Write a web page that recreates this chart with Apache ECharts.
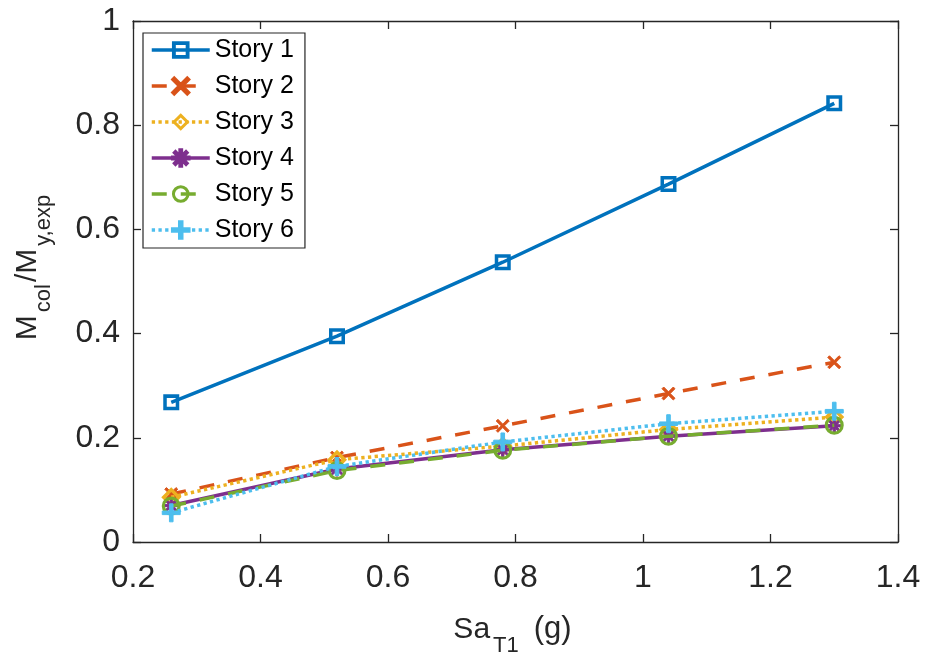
<!DOCTYPE html>
<html><head><meta charset="utf-8">
<script src="https://cdn.jsdelivr.net/npm/echarts@6/dist/echarts.min.js"></script>
<style>html,body{margin:0;padding:0;background:#fff}#c{width:930px;height:665px}</style>
</head><body><div id="c"></div>
<script>
const xValues = [0.26, 0.52, 0.78, 1.04, 1.30];
const seriesNames = ['Story 1','Story 2','Story 3','Story 4','Story 5','Story 6'];
const story1 = [0.268, 0.395, 0.537, 0.687, 0.842];
const story2 = [0.092, 0.162, 0.223, 0.285, 0.345];
const story3 = [0.086, 0.158, 0.184, 0.216, 0.240];
const story4 = [0.070, 0.140, 0.177, 0.203, 0.223];
const story5 = [0.069, 0.137, 0.176, 0.203, 0.224];
const story6 = [0.056, 0.145, 0.192, 0.227, 0.251];
const xTicks = [0.2, 0.4, 0.6, 0.8, 1, 1.2, 1.4];
const yTicks = [0, 0.2, 0.4, 0.6, 0.8, 1];

const allData = [story1, story2, story3, story4, story5, story6];
const colors = ['#0072BD','#D95319','#EDB120','#7E2F8E','#77AC30','#4DBEEE'];
const lineTypes = ['solid',[15,14],[3.3,3.4],'solid',[15,14],[3.3,3.4]];
const P_SQ = 'path://M0,0 H10 V10 H0 Z M2.2,2.2 V7.8 H7.8 V2.2 Z';
const P_DIA = 'path://M5,0 L10,5 L5,10 L0,5 Z M5,2.4 L2.4,5 L5,7.6 L7.6,5 Z';
const P_CIR = 'path://M5,0 A5,5 0 1,1 5,10 A5,5 0 1,1 5,0 Z M5,1.7 A3.3,3.3 0 1,0 5,8.3 A3.3,3.3 0 1,0 5,1.7 Z';
const P_X = 'path://M1.3,0 L5,3.7 L8.7,0 L10,1.3 L6.3,5 L10,8.7 L8.7,10 L5,6.3 L1.3,10 L0,8.7 L3.7,5 L0,1.3 Z';
const P_PLUS = 'path://M4,0 H6 V4 H10 V6 H6 V10 H4 V6 H0 V4 H4 Z';
const P_AST = 'path://M4.2,0 H5.8 V3.1 L8.0,0.9 L9.1,2.0 L6.9,4.2 H10 V5.8 H6.9 L9.1,8.0 L8.0,9.1 L5.8,6.9 V10 H4.2 V6.9 L2.0,9.1 L0.9,8.0 L3.1,5.8 H0 V4.2 H3.1 L0.9,2.0 L2.0,0.9 L4.2,3.1 Z';
const symbols = [P_SQ, P_X, P_DIA, P_AST, P_CIR, P_PLUS];
const symSizes = [16, 13, 20, 14, 19, 18];
const symBorders = [0, 1, 0, 1, 0, 1];
const font = 'Liberation Sans, Arial, Helvetica, sans-serif';
const axisCol = '#262626';
const fmt = v => String(Math.round(v*10)/10);

const series = allData.map((d, i) => ({
  name: seriesNames[i], type: 'line',
  data: d.map((v, j) => [xValues[j], v]),
  symbol: symbols[i], symbolSize: symSizes[i], showAllSymbol: true,
  lineStyle: { color: colors[i], width: 3.5, type: lineTypes[i] },
  itemStyle: { color: colors[i], borderColor: colors[i], borderWidth: symBorders[i] },
  emphasis: { disabled: true }, animation: false, z: 2 + i
}));

const chart = echarts.init(document.getElementById('c'), null, { renderer: 'canvas' });
const baseAxis = {
  axisLine: { show: true, onZero: false, lineStyle: { color: axisCol, width: 1.3 } },
  axisTick: { show: true, inside: true, length: 8, lineStyle: { color: axisCol, width: 1.3 } },
  splitLine: { show: false }
};
const richName = {
  m: { fontFamily: font, fontSize: 30, color: axisCol, verticalAlign: 'bottom' },
  s: { fontFamily: font, fontSize: 22, color: axisCol, verticalAlign: 'bottom', padding: [0,2,-12,3] },
  g: { fontFamily: font, fontSize: 31, color: axisCol, verticalAlign: 'bottom', padding: [0,0,0,13] }
};
chart.setOption({
  animation: false,
  color: colors,
  grid: { left: 133, right: 32, top: 21, bottom: 123, containLabel: false },
  legend: {
    data: seriesNames, orient: 'vertical', left: 143, top: 33,
    padding: [4, 11, 5, 7], itemGap: 10, itemWidth: 58, itemHeight: 22,
    backgroundColor: '#fff', borderColor: axisCol, borderWidth: 1.2,
    lineStyle: { width: 3.5 },
    textStyle: { fontFamily: font, fontSize: 25, lineHeight: 26, color: '#000' },
    selectedMode: false
  },
  xAxis: [
    Object.assign({}, baseAxis, {
      type: 'value', min: 0.2, max: 1.4, interval: 0.2, position: 'bottom',
      axisLabel: { color: axisCol, fontFamily: font, fontSize: 32, margin: 20, formatter: fmt },
      name: '{m|Sa}{s|T1}{g|(g)}', nameLocation: 'middle', nameGap: 72,
      nameTextStyle: { rich: richName, padding: [0, 6, 0, 0] }
    }),
    Object.assign({}, baseAxis, {
      type: 'value', min: 0.2, max: 1.4, interval: 0.2, position: 'top',
      axisLabel: { show: false }
    })
  ],
  yAxis: [
    Object.assign({}, baseAxis, {
      type: 'value', min: 0, max: 1, interval: 0.2, position: 'left',
      axisLabel: { color: axisCol, fontFamily: font, fontSize: 32, margin: 13, formatter: fmt },
      name: '{m|M}{s|col}{m|/M}{s|y,exp}', nameLocation: 'middle', nameGap: 90, nameRotate: 90,
      nameTextStyle: { rich: richName, padding: [0, 0, 0, 30] }
    }),
    Object.assign({}, baseAxis, {
      type: 'value', min: 0, max: 1, interval: 0.2, position: 'right',
      axisLabel: { show: false }
    })
  ],
  series: series
});
</script></body></html>
